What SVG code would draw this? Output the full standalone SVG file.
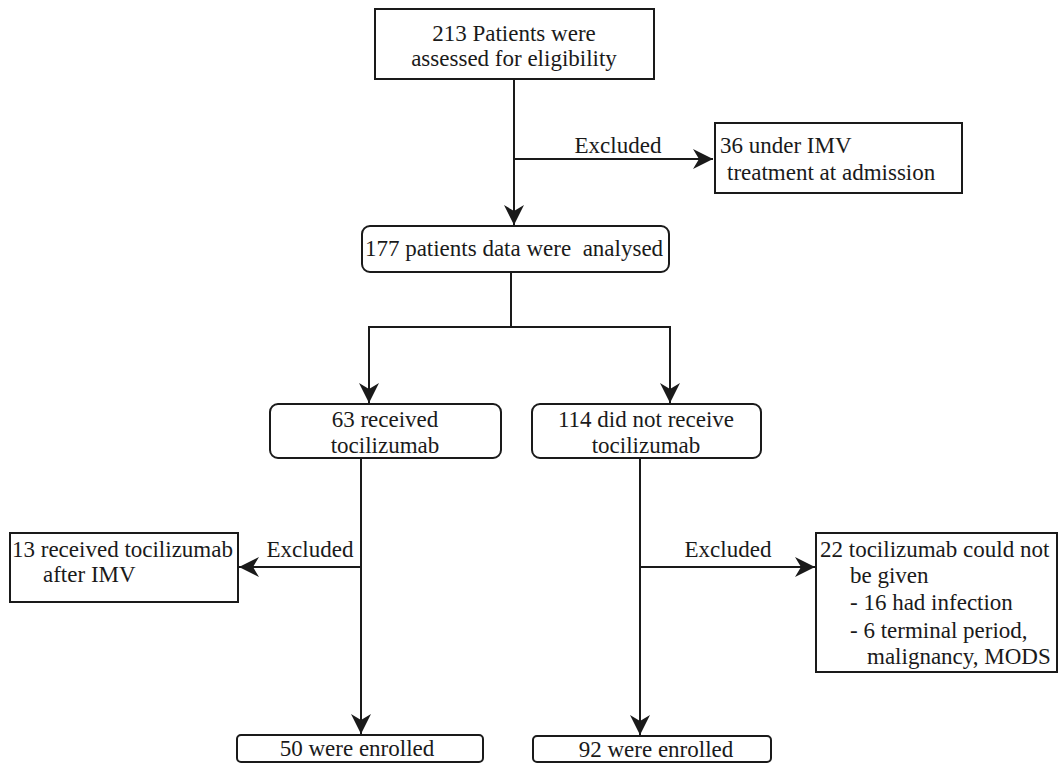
<svg xmlns="http://www.w3.org/2000/svg" width="1058" height="764" viewBox="0 0 1058 764" font-family="Liberation Serif, Times New Roman, serif" font-size="23">
<style>
  .box { fill: #fff; stroke: #1a1a1a; stroke-width: 2; }
  text { font-family: "Liberation Serif", serif; font-size: 23px; fill: #1a1a1a; }
  .c { text-anchor: middle; }
  .ln { fill: none; stroke: #1a1a1a; stroke-width: 2; }
</style>
<defs>
  <marker id="ah" markerUnits="userSpaceOnUse" viewBox="-22 -12 24 24" refX="0" refY="0" markerWidth="24" markerHeight="24" orient="auto">
    <path d="M0,0 L-20,-10 L-14,0 L-20,10 Z" fill="#1a1a1a"/>
  </marker>
</defs>
<rect width="1058" height="764" fill="#fff"/>
<g id="connectors">
  <line class="ln" x1="514" y1="79" x2="514" y2="225" marker-end="url(#ah)"/>
  <line class="ln" x1="514" y1="159" x2="713" y2="159" marker-end="url(#ah)"/>
  <polyline class="ln" points="511,272 511,327"/>
  <polyline class="ln" points="369,327 670,327"/>
  <line class="ln" x1="369" y1="326" x2="369" y2="403" marker-end="url(#ah)"/>
  <line class="ln" x1="670" y1="326" x2="670" y2="403" marker-end="url(#ah)"/>
  <line class="ln" x1="361" y1="458" x2="361" y2="734" marker-end="url(#ah)"/>
  <line class="ln" x1="361" y1="567" x2="239" y2="567" marker-end="url(#ah)"/>
  <line class="ln" x1="640" y1="458" x2="640" y2="735" marker-end="url(#ah)"/>
  <line class="ln" x1="640" y1="567" x2="815" y2="567" marker-end="url(#ah)"/>
  <text class="c" x="618" y="153">Excluded</text>
  <text class="c" x="310" y="557">Excluded</text>
  <text class="c" x="728" y="557">Excluded</text>
</g>
<g id="n1">
  <rect class="box" x="375" y="9" width="279" height="70"/>
  <text class="c" x="514" y="41">213 Patients were</text>
  <text class="c" x="514" y="66">assessed for eligibility</text>
</g>
<g id="n2">
  <rect class="box" x="715" y="123" width="247" height="70"/>
  <text x="720" y="153">36 under IMV</text>
  <text x="727" y="180">treatment at admission</text>
</g>
<g id="n3">
  <rect class="box" x="362" y="226" width="307" height="46" rx="8"/>
  <text class="c" x="514" y="256" xml:space="preserve">177 patients data were  analysed</text>
</g>
<g id="n4">
  <rect class="box" x="270" y="404" width="231" height="54" rx="8"/>
  <text class="c" x="385" y="427">63 received</text>
  <text class="c" x="385" y="453">tocilizumab</text>
</g>
<g id="n5">
  <rect class="box" x="532" y="404" width="229" height="54" rx="8"/>
  <text class="c" x="646" y="427">114 did not receive</text>
  <text class="c" x="646" y="453">tocilizumab</text>
</g>
<g id="n6">
  <rect class="box" x="10" y="533" width="228" height="69"/>
  <text x="12" y="557">13 received tocilizumab</text>
  <text x="43" y="582">after IMV</text>
</g>
<g id="n7">
  <rect class="box" x="816" y="533" width="241" height="139"/>
  <text x="820" y="557">22 tocilizumab could not</text>
  <text x="850" y="583">be given</text>
  <text x="850" y="610">- 16 had infection</text>
  <text x="850" y="638">- 6 terminal period,</text>
  <text x="867" y="664">malignancy, MODS</text>
</g>
<g id="n8">
  <rect class="box" x="237" y="735" width="246" height="27" rx="4"/>
  <text class="c" x="357" y="756">50 were enrolled</text>
</g>
<g id="n9">
  <rect class="box" x="533" y="736" width="238" height="26" rx="4"/>
  <text class="c" x="656" y="757">92 were enrolled</text>
</g>
</svg>
